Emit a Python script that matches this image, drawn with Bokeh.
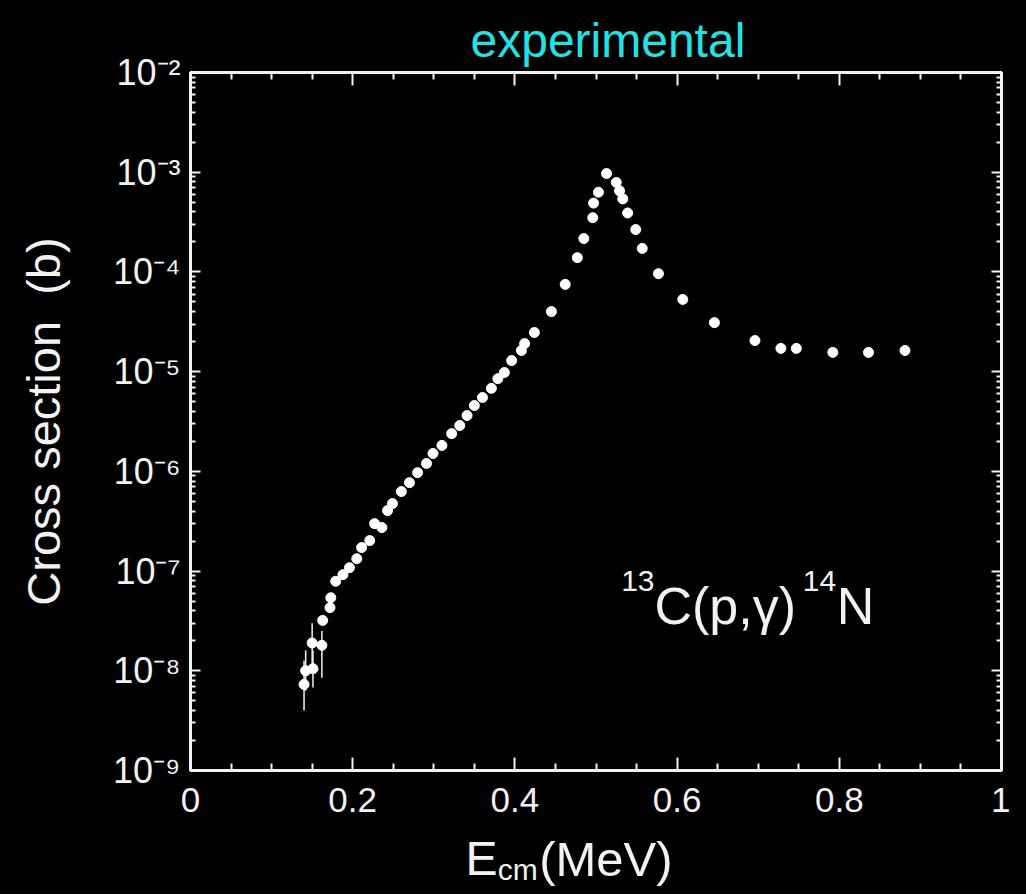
from bokeh.plotting import figure
from bokeh.layouts import column
from bokeh.models import LinearAxis, LogAxis, FixedTicker, Range1d, Label
from bokeh.core.properties import value
from bokeh.embed import file_html
from bokeh.resources import INLINE

# ---------------- data ----------------
energy = [0.140, 0.142, 0.151, 0.150, 0.162, 0.163, 0.172, 0.173, 0.179, 0.188,
          0.196, 0.205, 0.211, 0.221, 0.227, 0.236, 0.243, 0.249, 0.260, 0.270,
          0.280, 0.291, 0.299, 0.310, 0.322, 0.332, 0.341, 0.350, 0.360, 0.371,
          0.379, 0.387, 0.396, 0.408, 0.412, 0.424, 0.445, 0.462, 0.477, 0.485,
          0.496, 0.497, 0.503, 0.513, 0.525, 0.529, 0.533, 0.539, 0.549, 0.557,
          0.577, 0.607, 0.646, 0.696, 0.728, 0.747, 0.792, 0.836, 0.881]
sigma = [7.3e-9, 1.0e-8, 1.05e-8, 1.9e-8, 1.8e-8, 3.2e-8, 4.3e-8, 5.4e-8, 7.9e-8, 9.2e-8,
         1.08e-7, 1.33e-7, 1.72e-7, 2.02e-7, 2.99e-7, 2.73e-7, 4.04e-7, 4.75e-7, 6.27e-7, 7.7e-7,
         9.7e-7, 1.2e-6, 1.51e-6, 1.82e-6, 2.39e-6, 2.88e-6, 3.63e-6, 4.57e-6, 5.5e-6, 6.8e-6,
         8.5e-6, 9.8e-6, 1.29e-5, 1.63e-5, 1.91e-5, 2.47e-5, 4.0e-5, 7.5e-5, 1.39e-4, 2.16e-4,
         3.5e-4, 4.9e-4, 6.3e-4, 9.7e-4, 7.9e-4, 6.5e-4, 5.4e-4, 3.9e-4, 2.66e-4, 1.72e-4,
         9.6e-5, 5.3e-5, 3.1e-5, 2.05e-5, 1.71e-5, 1.71e-5, 1.56e-5, 1.56e-5, 1.63e-5]

# error bars of the lowest-energy points
err_energy = [0.140, 0.142, 0.151, 0.150, 0.162]
err_low = [4.0e-9, 6.3e-9, 6.8e-9, 1.13e-8, 8.5e-9]
err_high = [1.26e-8, 1.6e-8, 1.6e-8, 3.0e-8, 2.5e-8]

x_ticks = [0.0, 0.2, 0.4, 0.6, 0.8, 1.0]
x_tick_labels = ["0", "0.2", "0.4", "0.6", "0.8", "1"]
x_minor = [0.05, 0.1, 0.15, 0.25, 0.3, 0.35, 0.45, 0.5, 0.55, 0.65, 0.7, 0.75,
           0.85, 0.9, 0.95]
y_decades = [1e-9, 1e-8, 1e-7, 1e-6, 1e-5, 1e-4, 1e-3, 1e-2]
y_tick_labels = ["10⁻⁹", "10⁻⁸", "10⁻⁷", "10⁻⁶", "10⁻⁵", "10⁻⁴", "10⁻³", "10⁻²"]

FONT = "Liberation Sans"
WHITE = "#f2f2f2"
CYAN = "#22e3e3"

y_minor = [m * d for d in y_decades[:-1] for m in range(2, 10)]

p = figure(width=1010, height=831, x_range=Range1d(0, 1), y_range=Range1d(1e-9, 1e-2),
           y_axis_type="log", output_backend="svg", toolbar_location=None,
           min_border_left=190, min_border_right=9, min_border_top=72,
           min_border_bottom=61, background_fill_color="black",
           border_fill_color="black", outline_line_color=WHITE, outline_line_width=3)
p.grid.visible = False

# extra mirror axes
p.add_layout(LinearAxis(), "above")
p.add_layout(LogAxis(), "right")

xt = FixedTicker(ticks=x_ticks, minor_ticks=x_minor)
yt = FixedTicker(ticks=y_decades, minor_ticks=y_minor)

for ax in p.xaxis:
    ax.ticker = xt
    ax.major_tick_in = 13
    ax.major_tick_out = 0
    ax.minor_tick_in = 7
    ax.minor_tick_out = 0
    ax.major_label_overrides = {t: "" for t in x_ticks}
for ax in p.yaxis:
    ax.ticker = yt
    ax.major_tick_in = 10
    ax.major_tick_out = 0
    ax.minor_tick_in = 5
    ax.minor_tick_out = 0
    ax.major_label_overrides = {t: "" for t in y_decades}
for ax in list(p.xaxis) + list(p.yaxis):
    ax.axis_line_color = WHITE
    ax.axis_line_width = 3
    ax.major_tick_line_color = WHITE
    ax.major_tick_line_width = 2
    ax.minor_tick_line_color = WHITE
    ax.minor_tick_line_width = 2
    ax.major_label_text_font_size = "1px"
    ax.major_label_standoff = 0

bottom = p.below[0]
bottom.major_label_text_font_size = "35px"
bottom.major_label_text_font = FONT
bottom.major_label_text_color = WHITE
bottom.major_label_standoff = 17
bottom.major_label_overrides = {t: l for t, l in zip(x_ticks, x_tick_labels)}

left = p.left[0]
left.major_label_text_font_size = "36px"
left.major_label_text_font = FONT
left.major_label_text_color = WHITE
left.major_label_standoff = 10
left.major_label_overrides = {t: l for t, l in zip(y_decades, y_tick_labels)}
left.axis_label = "Cross section\u00a0\u00a0(b)"
left.axis_label_text_font = FONT
left.axis_label_text_font_size = "47px"
left.axis_label_text_font_style = "normal"
left.axis_label_text_color = WHITE
left.axis_label_standoff = 40

# title
p.title.text = "experimental"
p.title.align = "left"
p.title.offset = 280
p.title.standoff = 11
p.title.text_font = FONT
p.title.text_font_size = "48px"
p.title.text_font_style = "normal"
p.title.text_color = CYAN

# data
p.segment(x0=err_energy, y0=err_low, x1=err_energy, y1=err_high,
          line_color=WHITE, line_width=1.5)
p.scatter(x=energy, y=sigma, size=10, fill_color="white", line_color="white")

# reaction label 13C(p,γ)14N
for xv, yv, t, fs in [(0.531, 8.0e-8, "13", "30px"), (0.572, 4.5e-8, "C(p,γ)", "52px"),
                      (0.755, 8.0e-8, "14", "30px"), (0.797, 4.5e-8, "N", "52px")]:
    p.add_layout(Label(x=xv, y=yv, text=t, text_align="left", text_baseline="alphabetic",
                       text_font_size=fs, text_font=FONT, text_color=WHITE))

# x-axis title strip (E_cm (MeV)) below the plot, frame aligned with the main plot
p2 = figure(width=1010, height=55, x_range=Range1d(0, 1), y_range=Range1d(0, 55),
            output_backend="svg", toolbar_location=None, min_border=0,
            min_border_left=190, min_border_right=9,
            x_axis_location=None, y_axis_location=None, title_location=None,
            background_fill_color="black", border_fill_color="black",
            outline_line_color=None)
p2.grid.visible = False
p2.text(x=[0.339], y=[28], text=["E"], text_font=value(FONT), text_font_size=value("48px"),
        text_color=WHITE, text_align="left", text_baseline="middle")
p2.text(x=[0.379], y=[17], text=["cm"], text_font=value(FONT), text_font_size=value("30px"),
        text_color=WHITE, text_align="left", text_baseline="middle")
p2.text(x=[0.430], y=[28], text=["(MeV)"], text_font=value(FONT),
        text_font_size=value("49px"), text_color=WHITE, text_align="left",
        text_baseline="middle")

layout = column(p, p2, spacing=0)
html = file_html(layout, INLINE).replace("<body>", '<body style="background:black">')
open("out.html", "w").write(html)
